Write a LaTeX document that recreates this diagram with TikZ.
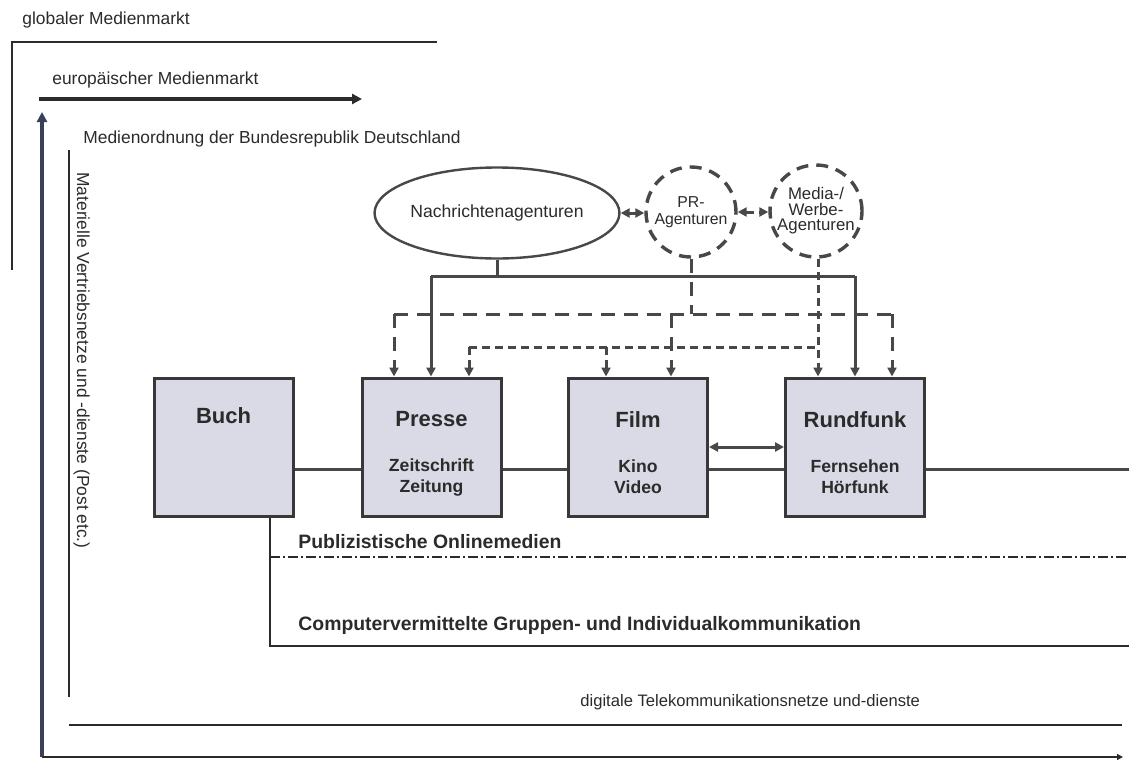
\documentclass[tikz,border=0pt]{standalone}
\usepackage{fontspec}
\setmainfont{Liberation Sans}
\usetikzlibrary{arrows.meta,shapes.geometric,calc}

\definecolor{ink}{HTML}{2B2B2B}
\definecolor{wirecol}{HTML}{484848}
\definecolor{boxfill}{HTML}{DADAE6}
\definecolor{boxline}{HTML}{383838}
\definecolor{slate}{HTML}{3A3F5A}

\tikzset{
  lbl/.style={font=\fontsize{8.7}{10}\selectfont, text=ink, inner sep=0pt},
  frameline/.style={draw=ink, line width=1pt},
  heavy/.style={line width=1.6pt, -{Triangle[length=5pt,width=5pt]}},
  medbox/.style={draw=boxline, fill=boxfill, line width=1.5pt,
    minimum width=69.5pt, minimum height=69pt, inner sep=0pt},
  boxtitle/.style={font=\fontsize{11}{13}\selectfont\bfseries, text=ink,
    inner sep=0pt, anchor=base},
  boxsub/.style={font=\fontsize{8.8}{10}\selectfont\bfseries, text=ink,
    inner sep=0pt, anchor=base},
  wire/.style={draw=wirecol, line width=1.5pt},
  arrowtip/.style={-{Triangle[length=4.5pt,width=4.5pt]}},
  twotips/.style={{Triangle[length=4.5pt,width=4.5pt]}-{Triangle[length=4.5pt,width=4.5pt]}},
  longdash/.style={dash pattern=on 7pt off 4.5pt},
  shortdash/.style={dash pattern=on 4pt off 2.5pt},
  agency/.style={circle, draw=wirecol, line width=1.7pt,
    dash pattern=on 6pt off 4pt, inner sep=0pt, align=center, text=ink},
  lowtext/.style={font=\fontsize{9.7}{11}\selectfont\bfseries, text=ink,
    inner sep=0pt, anchor=base west},
}

\begin{document}
\begin{tikzpicture}[x=0.5pt, y=-0.5pt]
\useasboundingbox[fill=white] (0,0) rectangle (1129,760);

% --- market frames -------------------------------------------------
\node[lbl, anchor=base west] (glob) at (22,25) {globaler Medienmarkt};
\draw[frameline] (12,270) -- (12,42) -- (437,42);

\node[lbl, anchor=base west] (euro) at (52,84) {europäischer Medienmarkt};
\coordinate (euA) at (39,99);
\coordinate (euB) at (362,99);
\draw[heavy, draw=ink] (euA) -- (euB);

\coordinate (corner) at (42,757);
\coordinate (upEnd) at (42,112);
\coordinate (rightEnd) at (1123,757);
\draw[heavy, draw=slate] (corner) -- (upEnd);
\draw[frameline, -{Triangle[length=3pt,width=3pt]}] (corner) -- (rightEnd);

\node[lbl, anchor=base west] (brd) at (83,143)
  {Medienordnung der Bundesrepublik Deutschland};
\draw[frameline, line width=0.9pt] (69,150) -- (69,697);
\draw[frameline, line width=1.1pt] (69,725) -- (1122,725);

\node[lbl, rotate=-90, anchor=base west] (post) at (77,172)
  {Materielle Vertriebsnetze und -dienste (Post etc.)};

\node[lbl, font=\fontsize{8.3}{10}\selectfont, anchor=base west] (digi) at (580,706)
  {digitale Telekommunikationsnetze und-dienste};

% --- agencies --------------------------------------------------------
\node[ellipse, draw=wirecol, line width=1.2pt, minimum width=110.5pt,
      minimum height=45.5pt, inner sep=0pt, text=ink,
      font=\fontsize{8.8}{10}\selectfont] (nach) at (497,213) {Nachrichtenagenturen};

\node[agency, minimum size=45pt, font=\fontsize{7.9}{8.5}\selectfont]
  (pr) at (691,212) {PR-\\Agenturen};

\node[agency, minimum size=46pt, font=\fontsize{8.4}{7.8}\selectfont]
  (media) at (816,211) {Media-/\\Werbe-\\Agenturen};

\draw[wire, longdash, twotips] (nach.east) -- (nach.east -| pr.west);
\draw[wire, shortdash, twotips] (pr.east) -- (pr.east -| media.west);

% --- media boxes -----------------------------------------------------
\node[medbox] (buch)   at (223.5,447) {};
\node[medbox] (presse) at (431.5,447) {};
\node[medbox] (film)   at (638,447)   {};
\node[medbox] (rund)   at (855,447)   {};

\node[boxtitle] (buchT)   at (223.5,423) {Buch};
\node[boxtitle] (presseT) at (431.5,426) {Presse};
\node[boxsub]   (presseA) at (431.5,471) {Zeitschrift};
\node[boxsub]   (presseB) at (431.5,492) {Zeitung};
\node[boxtitle] (filmT)   at (638,427)   {Film};
\node[boxsub]   (filmA)   at (638,472)   {Kino};
\node[boxsub]   (filmB)   at (638,493)   {Video};
\node[boxtitle] (rundT)   at (855,427)   {Rundfunk};
\node[boxsub]   (rundA)   at (855,472)   {Fernsehen};
\node[boxsub]   (rundB)   at (855,493)   {Hörfunk};

% news agencies: solid feed to press and broadcasting
\coordinate (sL) at (431,276);
\coordinate (sR) at (855,276);
\draw[wire] (nach.south) -- (nach.south |- sL);
\draw[wire] (sL) -- (sR);
\draw[wire, arrowtip] (sL) -- (sL |- presse.north);
\draw[wire, arrowtip] (sR) -- (sR |- rund.north);

% PR agencies: long dashes
\coordinate (pL) at (394,314);
\coordinate (pF) at (671,314);
\coordinate (pR) at (892,314);
\draw[wire, longdash] (pr.south) -- (pr.south |- pL);
\draw[wire, longdash] (pL) -- (pR);
\draw[wire, longdash, arrowtip] (pL) -- (pL |- presse.north);
\draw[wire, longdash, arrowtip] (pF) -- (pF |- film.north);
\draw[wire, longdash, arrowtip] (pR) -- (pR |- rund.north);

% media / advertising agencies: short dashes
\coordinate (mL) at (469,347);
\coordinate (mF) at (606,347);
\coordinate (mJ) at (818,347);
\draw[wire, shortdash, arrowtip] (media.south -| mJ) -- (mJ |- rund.north);
\draw[wire, shortdash] (mL) -- (mJ);
\draw[wire, shortdash, arrowtip] (mL) -- (mL |- presse.north);
\draw[wire, shortdash, arrowtip] (mF) -- (mF |- film.north);

% links between the media
\coordinate (hl) at (0,469);
\coordinate (hlEnd) at (1129,469);
\coordinate (dl) at (0,447);
\draw[wire] (buch.east |- hl) -- (presse.west |- hl);
\draw[wire] (presse.east |- hl) -- (film.west |- hl);
\draw[wire] (film.east |- hl) -- (rund.west |- hl);
\draw[wire] (rund.east |- hl) -- (hlEnd);
\draw[wire, twotips] (film.east |- dl) -- (rund.west |- dl);

% online layers below the book
\coordinate (cb) at (270,646);
\coordinate (cbEnd) at (1129,646);
\coordinate (od) at (270,557);
\coordinate (odEnd) at (1129,557);
\draw[draw=ink, line width=1.2pt] (buch.south -| cb) -- (cb) -- (cbEnd);
\draw[draw=ink, line width=1pt, dash pattern=on 5pt off 1.5pt on 1pt off 1.5pt]
  (od) -- (odEnd);

\node[lowtext] (online) at (298,548) {Publizistische Onlinemedien};
\node[lowtext] (cmc) at (298,630)
  {Computervermittelte Gruppen- und Individualkommunikation};
\end{tikzpicture}
\end{document}
